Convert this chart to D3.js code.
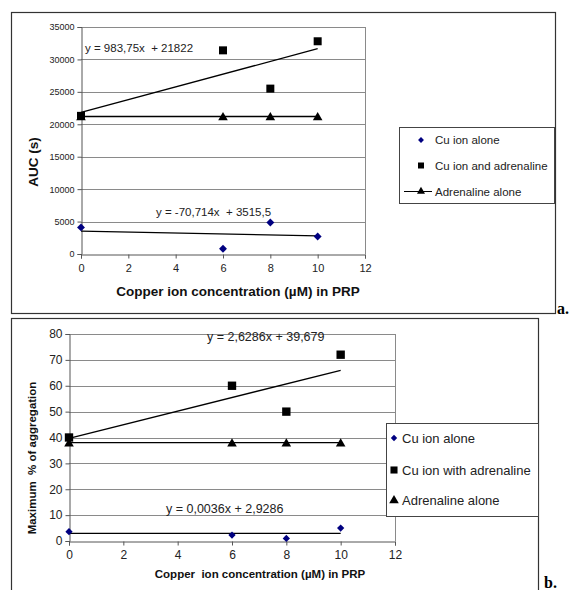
<!DOCTYPE html>
<html><head><meta charset="utf-8">
<script src="https://cdn.jsdelivr.net/npm/d3@7"></script>
<style>
body{margin:0;background:#fff;}
text{font-family:"Liberation Sans",Arial,sans-serif;}
</style></head>
<body><svg id="c" width="572" height="590"></svg>
<script>
// ---- data ----
const concentrations = [0, 6, 8, 10];
// panel a: AUC (s)
const aCuAlone = [4100, 800, 4850, 2700];
const aCuAdrenaline = [21300, 31400, 25500, 32800];
const aAdrenalineAlone = [21200, 21200, 21200, 21200];
const aTrendCuAlone = {slope: -70.714, intercept: 3515.5, label: "y = -70,714x  + 3515,5"};
const aTrendCuAdr = {slope: 983.75, intercept: 21822, label: "y = 983,75x  + 21822"};
const aYTicks = [0, 5000, 10000, 15000, 20000, 25000, 30000, 35000];
const aLegend = ["Cu ion alone", "Cu ion and adrenaline", "Adrenaline alone"];
// panel b: Maximum % of aggregation
const bCuAlone = [3.6, 2.3, 1.0, 5.0];
const bCuAdrenaline = [40, 60, 50, 72];
const bAdrenalineAlone = [38, 38, 38, 38];
const bTrendCuAlone = {slope: 0.0036, intercept: 2.9286, label: "y = 0,0036x + 2,9286"};
const bTrendCuAdr = {slope: 2.6286, intercept: 39.679, label: "y = 2,6286x + 39,679"};
const bYTicks = [0, 10, 20, 30, 40, 50, 60, 70, 80];
const bLegend = ["Cu ion alone", "Cu ion with adrenaline", "Adrenaline alone"];
const xTicks = [0, 2, 4, 6, 8, 10, 12];

const svg = d3.select("#c");
const NAVY = "#000080";
const GRID = "#8a8a8a";

function sym(type, size) { return d3.symbol().type(type).size(size)(); }

function panel(o) {
  const g = svg.append("g");
  // outer frame
  g.append("rect").attr("x", o.frame[0]+0.5).attr("y", o.frame[1]+0.5)
    .attr("width", o.frame[2]-o.frame[0]).attr("height", o.frame[3]-o.frame[1])
    .attr("fill", "#fff").attr("stroke", "#333").attr("stroke-width", 1.2);
  const x = d3.scaleLinear().domain([0, 12]).range([o.plot[0], o.plot[1]]);
  const y = d3.scaleLinear().domain([0, o.ymax]).range([o.plot[3], o.plot[2]]);
  // grid
  g.selectAll(null).data(o.yTicks.filter(d => d > 0)).enter().append("line")
    .attr("x1", x(0)).attr("x2", x(12)).attr("y1", d => Math.round(y(d))+0.5).attr("y2", d => Math.round(y(d))+0.5)
    .attr("stroke", GRID).attr("stroke-width", 1);
  g.append("line").attr("x1", Math.round(x(12))+0.5).attr("x2", Math.round(x(12))+0.5)
    .attr("y1", y(o.ymax)).attr("y2", y(0)).attr("stroke", GRID);
  // axes
  const ya = d3.axisLeft(y).tickValues(o.yTicks).tickSize(4).tickPadding(3).tickFormat(d3.format("d"));
  const yg = g.append("g").attr("transform", `translate(${Math.round(x(0))+0.5},0)`).call(ya);
  yg.selectAll("text").style("font-size", o.yFont+"px").attr("fill", "#222");
  const xa = d3.axisBottom(x).tickValues(xTicks).tickSize(4).tickPadding(o.xPad).tickFormat(d3.format("d"));
  const xg = g.append("g").attr("transform", `translate(0,${Math.round(y(0))+0.5})`).call(xa);
  xg.selectAll("text").style("font-size", o.xFont+"px").attr("fill", "#222");
  [yg, xg].forEach(a => { a.select(".domain").attr("stroke", "#555"); a.selectAll(".tick line").attr("stroke", "#555"); });
  // adrenaline alone line
  const line = d3.line().x((d, i) => x(concentrations[i])).y(d => y(d));
  g.append("path").attr("d", line(o.adr)).attr("fill", "none").attr("stroke", "#000").attr("stroke-width", 1.3);
  // trend lines
  [o.t1, o.t2].forEach(t => {
    g.append("line").attr("x1", x(0)).attr("x2", x(10))
      .attr("y1", y(t.intercept)).attr("y2", y(t.intercept + 10*t.slope))
      .attr("stroke", "#000").attr("stroke-width", 1.3);
  });
  // markers
  o.adr.forEach((v, i) => g.append("path").attr("d", sym(d3.symbolTriangle, o.triSize))
    .attr("transform", `translate(${x(concentrations[i])},${y(v)+1})`).attr("fill", "#000"));
  o.cuAdr.forEach((v, i) => g.append("path").attr("d", sym(d3.symbolSquare, o.sqSize))
    .attr("transform", `translate(${x(concentrations[i])},${y(v)})`).attr("fill", "#000"));
  o.cu.forEach((v, i) => g.append("path").attr("d", sym(d3.symbolDiamond2, o.diaSize))
    .attr("transform", `translate(${x(concentrations[i])},${y(v)})`).attr("fill", NAVY));
  // equation labels
  o.eq.forEach(e => g.append("text").attr("x", e[0]).attr("y", e[1]).text(e[2])
    .style("font-size", o.eqFont+"px").attr("fill", "#222").style("white-space", "pre"));
  // axis titles
  g.append("text").attr("x", o.xTitle[0]).attr("y", o.xTitle[1]).text(o.xTitle[2])
    .style("font-size", o.titleFont+"px").style("font-weight", "bold").attr("text-anchor", "middle").attr("fill", "#111")
    .style("white-space", "pre");
  g.append("text").attr("transform", `translate(${o.yTitle[0]},${o.yTitle[1]}) rotate(-90)`).text(o.yTitle[2])
    .style("font-size", o.yTitleFont+"px").style("font-weight", "bold").attr("text-anchor", "middle").attr("fill", "#111")
    .style("white-space", "pre");
  // legend
  const L = o.legend;
  g.append("rect").attr("x", L.box[0]+0.5).attr("y", L.box[1]+0.5).attr("width", L.box[2]-L.box[0]).attr("height", L.box[3]-L.box[1])
    .attr("fill", "#fff").attr("stroke", "#444");
  const types = [[d3.symbolDiamond2, NAVY, L.sizes[0]], [d3.symbolSquare, "#000", L.sizes[1]], [d3.symbolTriangle, "#000", L.sizes[2]]];
  L.labels.forEach((lab, i) => {
    const yy = L.ys[i];
    if (i === 2 && L.triLine) g.append("line").attr("x1", L.triLine[0]).attr("x2", L.triLine[1]).attr("y1", yy).attr("y2", yy).attr("stroke", "#000");
    g.append("path").attr("d", sym(types[i][0], types[i][2])).attr("transform", `translate(${L.mx},${yy})`).attr("fill", types[i][1]);
    g.append("text").attr("x", L.tx).attr("y", yy).attr("dy", "0.35em").text(lab).style("font-size", L.font+"px").attr("fill", "#222");
  });
  // panel letter
  g.append("text").attr("x", o.letter[0]).attr("y", o.letter[1]).text(o.letter[2])
    .style("font-family", "'Liberation Serif','Times New Roman',serif").style("font-size", "16px").style("font-weight", "bold");
}

panel({
  frame: [11, 12, 555, 313], plot: [81, 365, 27, 254], ymax: 35000, yTicks: aYTicks,
  yFont: 9, xFont: 11, xPad: 6,
  cu: aCuAlone, cuAdr: aCuAdrenaline, adr: aAdrenalineAlone,
  t1: aTrendCuAlone, t2: aTrendCuAdr,
  triSize: 40, sqSize: 64, diaSize: 40,
  eq: [[85, 52, aTrendCuAdr.label], [156, 216, aTrendCuAlone.label]], eqFont: 11.5,
  xTitle: [238, 296, "Copper ion concentration (\u00b5M) in PRP"], titleFont: 13.5,
  yTitle: [38, 162, "AUC (s)"], yTitleFont: 13.5,
  legend: {box: [399, 127, 554, 203], ys: [140, 165.5, 191.5], mx: 421, tx: 435, font: 11.5,
           labels: aLegend, sizes: [22, 36, 28], triLine: [404, 432]},
  letter: [557, 314, "a."]
});

panel({
  frame: [11, 318, 538, 600], plot: [69, 395, 334, 541], ymax: 80, yTicks: bYTicks,
  yFont: 12, xFont: 12, xPad: 5,
  cu: bCuAlone, cuAdr: bCuAdrenaline, adr: bAdrenalineAlone,
  t1: bTrendCuAlone, t2: bTrendCuAdr,
  triSize: 40, sqSize: 70, diaSize: 34,
  eq: [[207, 340.5, bTrendCuAdr.label], [166, 512.5, bTrendCuAlone.label]], eqFont: 12.5,
  xTitle: [260, 578, "Copper  ion concentration (\u00b5M) in PRP"], titleFont: 11.5,
  yTitle: [36, 458, "Maximum  % of aggregation"], yTitleFont: 11.5,
  legend: {box: [386, 423, 538, 516], ys: [438, 470, 500.5], mx: 394, tx: 402, font: 13,
           labels: bLegend, sizes: [26, 50, 40], triLine: null},
  letter: [544, 588, "b."]
});
</script></body></html>
